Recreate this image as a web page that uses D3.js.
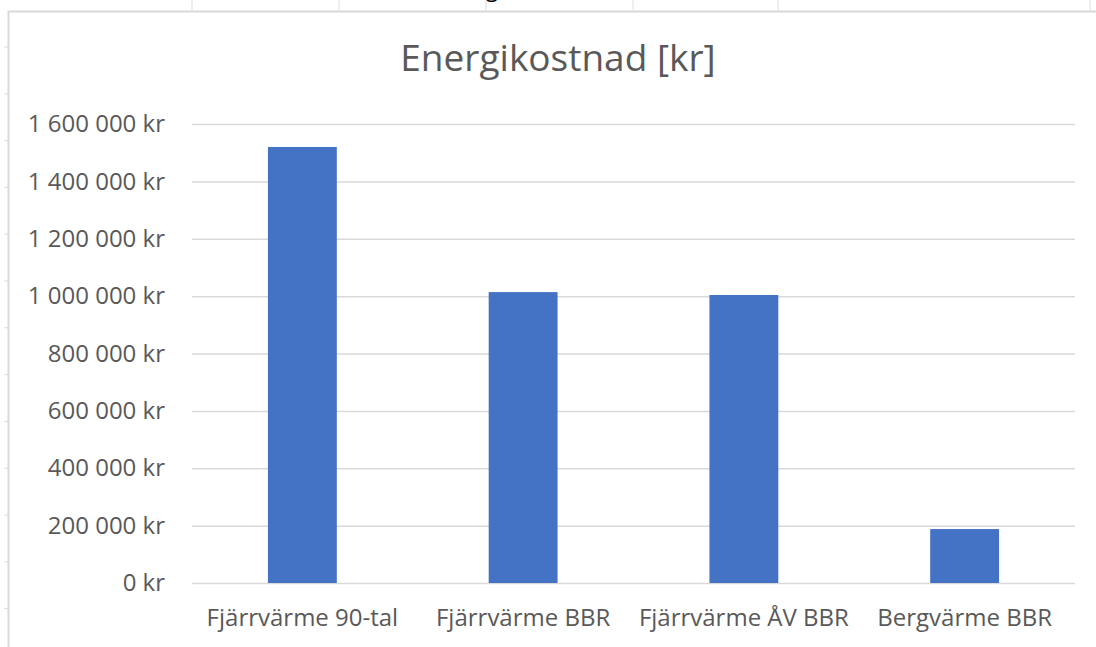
<!DOCTYPE html>
<html>
<head>
<meta charset="utf-8">
<script src="https://cdn.jsdelivr.net/npm/d3@7"></script>
<style>
  body { margin: 0; background: #fff; }
  svg { display: block; }
  text { font-family: "Open Sans", sans-serif; }
</style>
</head>
<body>
<svg id="chart"></svg>
<script>
var categories = ["Fjärrvärme 90-tal", "Fjärrvärme BBR", "Fjärrvärme ÅV BBR", "Bergvärme BBR"]
var costs = [1520000, 1014000, 1004000, 188000]
var yTicks = [0, 200000, 400000, 600000, 800000, 1000000, 1200000, 1400000, 1600000]
var title = "Energikostnad [kr]"

var dims = {
  width: 1096,
  height: 647,
  margin: { top: 124, bottom: 64, left: 192, right: 21 }
}

var svg = d3.select("#chart")
  .attr("width", dims.width)
  .attr("height", dims.height)

// sheet leftovers around the chart frame
var colTicks = [192, 339, 486, 633, 778, 1090]
svg.selectAll(".colTick")
  .data(colTicks)
  .enter()
  .append("line")
    .attr("x1", d => d).attr("x2", d => d)
    .attr("y1", 0).attr("y2", 10)
    .attr("stroke", "#dcdcdc")
    .attr("stroke-width", 1)

svg.selectAll(".rowTick")
  .data(d3.range(47, 640, 46.8))
  .enter()
  .append("line")
    .attr("x1", 4).attr("x2", 8)
    .attr("y1", d => d).attr("y2", d => d)
    .attr("stroke", "#dcdcdc")
    .attr("stroke-width", 1)

svg.append("text")
  .attr("x", 486)
  .attr("y", -3)
  .attr("font-family", "Liberation Serif")
  .style("font-size", "22px")
  .attr("fill", "#000")
  .text("g")

svg.append("path")
  .attr("d", `M8.5,${dims.height} V11.5 H${dims.width}`)
  .attr("fill", "none")
  .attr("stroke", "#d9d9d9")
  .attr("stroke-width", 2)

var x = d3.scaleBand()
  .domain(categories)
  .range([dims.margin.left, dims.width - dims.margin.right])
  .paddingInner(0.688)
  .paddingOuter(0.344)

var y = d3.scaleLinear()
  .domain([0, 1600000])
  .range([dims.height - dims.margin.bottom, dims.margin.top])

var fmt = d3.formatLocale({ decimal: ",", thousands: " ", grouping: [3], currency: ["", ""] }).format(",.0f")

var yAxis = svg.append("g")
  .attr("transform", `translate(${dims.margin.left},0)`)
  .call(d3.axisLeft(y)
    .tickValues(yTicks)
    .tickSize(-(dims.width - dims.margin.left - dims.margin.right))
    .tickPadding(27)
    .tickFormat(d => fmt(d) + " kr"))
yAxis.select(".domain").remove()
yAxis.selectAll("line")
  .attr("stroke", "#d9d9d9")
  .attr("stroke-width", 1.5)
yAxis.selectAll("text")
  .attr("fill", "#595959")
  .style("font-size", "24px")
  .attr("font-family", "Open Sans")

svg.selectAll(".bar")
  .data(costs)
  .enter()
  .append("rect")
    .attr("x", (d, i) => x(categories[i]))
    .attr("y", d => y(d))
    .attr("width", x.bandwidth())
    .attr("height", d => y(0) - y(d))
    .attr("fill", "#4472c4")

var xAxis = svg.append("g")
  .attr("transform", `translate(0,${dims.height - dims.margin.bottom})`)
  .call(d3.axisBottom(x).tickSize(0).tickPadding(26))
xAxis.select(".domain").remove()
xAxis.selectAll("text")
  .attr("fill", "#595959")
  .style("font-size", "24px")
  .attr("font-family", "Open Sans")

svg.append("text")
  .attr("x", 558)
  .attr("y", 71)
  .attr("text-anchor", "middle")
  .attr("fill", "#595959")
  .style("font-size", "37px")
  .text(title)
</script>
</body>
</html>
